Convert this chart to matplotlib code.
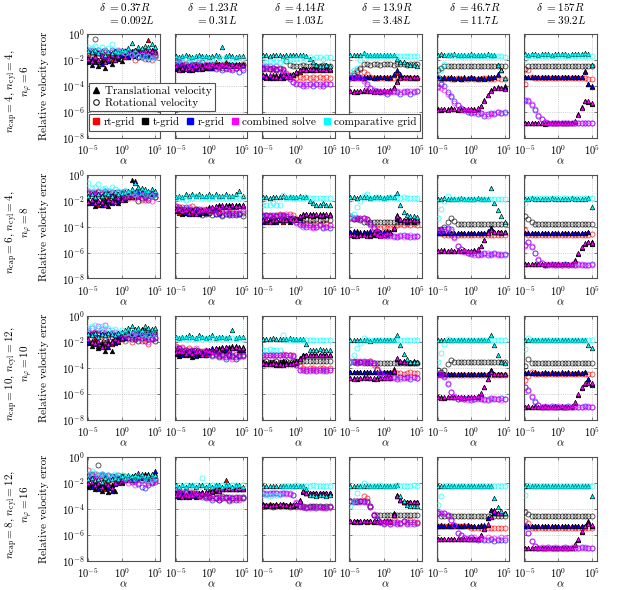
import numpy as np
import matplotlib
matplotlib.use('Agg')
import matplotlib.pyplot as plt
from matplotlib.lines import Line2D
from matplotlib.ticker import NullLocator

plt.rcParams['mathtext.fontset'] = 'cm'
plt.rcParams['font.family'] = 'serif'
plt.rcParams['font.serif'] = ['cmr10', 'DejaVu Serif']
plt.rcParams['axes.formatter.use_mathtext'] = True
plt.rcParams['axes.unicode_minus'] = False

# alpha values (log10)
ALPHA_EXP = [-5.0, -4.5, -4.0, -3.5, -3.0, -2.5, -2.0, -1.5, -1.0, -0.5, 0.0,
             0.5, 1.0, 1.5, 2.0, 2.5, 3.0, 3.5, 4.0, 4.5, 5.0]
SERIES = ['rt-grid', 't-grid', 'r-grid', 'combined solve', 'comparative grid']
COLORS = ['#ff0000', '#000000', '#0000ff', '#ff00ff', '#00ffff']
DELTA_R = ['0.37R', '1.23R', '4.14R', '13.9R', '46.7R', '157R']
DELTA_L = ['0.092L', '0.31L', '1.03L', '3.48L', '11.7L', '39.2L']
ROW_LINE1 = [r'$n_\mathrm{cap}=4$, $n_\mathrm{cyl}=4$,', r'$n_\mathrm{cap}=6$, $n_\mathrm{cyl}=4$,',
             r'$n_\mathrm{cap}=10$, $n_\mathrm{cyl}=12$,', r'$n_\mathrm{cap}=8$, $n_\mathrm{cyl}=12$,']
ROW_LINE2 = [r'$n_\varphi=6$', r'$n_\varphi=8$', r'$n_\varphi=10$', r'$n_\varphi=16$']

# log10(relative velocity error); each panel: [rt-grid, t-grid, r-grid, combined, comparative]
# T = translational velocity, R = rotational velocity, suffix = row, column
T11 = [[-1.8,-2.0,-1.7,-2.2,-1.9,-2.1,-1.6,-2.0,-1.8,-1.5,-1.7,-1.4,-1.6,-1.3,-1.5,-1.2,-1.4,-1.3,-0.5,-1.3,-1.2],
       [-2.2,-2.4,-2.0,-2.5,-2.2,-2.6,-2.1,-2.3,-2.0,-1.9,-2.1,-1.6,-1.8,-1.5,-1.7,-1.4,-1.6,-1.5,-1.7,-1.4,-1.5],
       [-2.0,-1.9,-2.2,-2.0,-2.3,-1.8,-2.1,-1.7,-1.9,-1.8,-1.6,-1.5,-1.7,-1.4,-1.6,-1.5,-1.3,-1.6,-1.4,-1.2,-1.3],
       [-1.9,-2.1,-1.8,-2.0,-1.7,-2.2,-1.9,-1.6,-2.0,-1.7,-1.5,-1.8,-1.4,-1.6,-1.3,-1.5,-1.4,-1.2,-1.5,-1.3,-1.4],
       [-1.3,-1.4,-1.2,-1.5,-1.3,-1.6,-1.4,-1.5,-1.3,-1.4,-1.2,-1.3,-1.1,-0.7,-1.2,-1.0,-1.1,-0.9,-1.0,-0.8,-1.0]]
R11 = [[-1.4,-1.6,-1.3,-1.7,-1.5,-1.2,-1.6,-1.4,-1.8,-1.5,-1.3,-1.6,-1.4,-1.7,-2.0,-1.8,-1.5,-1.9,-1.6,-2.0,-1.7],
       [-1.6,-1.3,-0.4,-1.5,-1.7,-1.4,-1.8,-1.6,-1.5,-1.3,-1.5,-1.4,-1.6,-1.5,-1.3,-1.8,-1.6,-1.4,-1.7,-1.5,-1.6],
       [-1.2,-1.5,-1.4,-1.2,-1.6,-1.3,-1.5,-1.2,-1.4,-1.6,-1.5,-1.3,-1.7,-1.4,-1.6,-1.5,-1.8,-1.6,-1.9,-1.7,-1.8],
       [-1.5,-1.2,-1.6,-1.4,-1.3,-1.7,-1.5,-1.4,-1.6,-1.2,-1.4,-1.5,-1.3,-1.6,-1.4,-1.7,-1.5,-1.6,-1.4,-1.8,-1.5],
       [-1.0,-1.1,-0.9,-1.2,-1.0,-1.3,-1.1,-0.8,-1.2,-1.4,-1.3,-1.5,-1.4,-1.6,-1.5,-1.7,-1.6,-1.8,-1.7,-1.9,-1.8]]
T12 = [[-2.5,-2.6,-2.4,-2.7,-2.5,-2.6,-2.3,-2.5,-2.4,-2.6,-2.3,-2.5,-2.2,-2.4,-2.3,-2.2,-2.4,-2.3,-2.5,-2.3,-2.4],
       [-2.7,-2.6,-2.8,-2.5,-2.7,-2.8,-2.6,-2.5,-2.7,-2.6,-2.4,-2.6,-2.5,-2.3,-2.5,-2.4,-2.3,-2.5,-2.4,-2.3,-2.4],
       [-2.6,-2.7,-2.5,-2.6,-2.8,-2.5,-2.7,-2.6,-2.5,-2.4,-2.6,-2.4,-2.5,-2.3,-2.4,-2.5,-2.3,-2.4,-2.3,-2.4,-2.3],
       [-2.5,-2.8,-2.6,-2.7,-2.6,-2.7,-2.5,-2.7,-2.6,-2.5,-2.5,-2.3,-2.4,-2.5,-2.3,-2.4,-2.5,-2.3,-2.4,-2.5,-2.4],
       [-1.7,-1.8,-1.7,-1.6,-1.7,-1.8,-1.7,-1.6,-1.7,-1.7,-1.8,-1.7,-1.6,-1.7,-1.0,-1.7,-1.6,-1.7,-1.8,-1.7,-1.7]]
R12 = [[-2.2,-2.4,-2.3,-2.5,-2.2,-2.4,-2.6,-2.3,-2.5,-2.4,-2.6,-2.5,-2.3,-2.6,-2.4,-2.7,-2.5,-2.6,-2.4,-2.5,-2.3],
       [-2.4,-2.3,-2.5,-2.3,-2.6,-2.4,-2.3,-2.5,-2.2,-2.4,-2.5,-2.3,-2.5,-2.4,-2.6,-2.3,-2.5,-2.4,-2.6,-2.5,-2.4],
       [-2.3,-2.2,-2.4,-2.6,-2.5,-2.3,-2.5,-2.4,-2.6,-2.5,-2.4,-2.6,-2.7,-2.5,-2.8,-2.6,-2.7,-2.8,-2.6,-2.9,-2.8],
       [-2.1,-2.3,-2.2,-2.4,-2.3,-2.5,-2.4,-2.2,-2.4,-2.3,-2.5,-2.4,-2.6,-2.5,-2.4,-2.6,-2.5,-2.7,-2.6,-2.5,-2.6],
       [-1.9,-2.0,-1.8,-1.9,-2.0,-1.9,-1.8,-2.0,-1.9,-1.8,-1.9,-2.0,-1.9,-1.8,-1.9,-1.8,-1.9,-2.0,-1.9,-1.8,-1.9]]
T13 = [[-3.3,-3.4,-3.3,-3.2,-3.4,-3.3,-3.2,-3.3,-3.2,-3.1,-3.0,-2.9,-2.8,-2.8,-2.7,-2.8,-2.7,-2.8,-2.7,-2.7,-2.8],
       [-3.2,-3.3,-3.4,-3.3,-3.2,-3.3,-3.4,-3.2,-3.3,-3.2,-2.9,-2.8,-2.7,-2.7,-2.8,-2.7,-2.6,-2.7,-2.7,-2.6,-2.7],
       [-3.3,-3.2,-3.3,-3.4,-3.3,-3.2,-3.3,-3.3,-3.2,-3.1,-3.0,-2.8,-2.8,-2.7,-2.7,-2.8,-2.7,-2.7,-2.8,-2.7,-2.7],
       [-3.2,-3.3,-3.2,-3.3,-3.3,-3.4,-3.2,-3.3,-3.3,-3.1,-2.9,-2.8,-2.7,-2.8,-2.7,-2.7,-2.8,-2.7,-2.7,-2.8,-2.7],
       [-1.6,-1.6,-1.7,-1.6,-1.6,-1.6,-1.7,-1.6,-1.6,-1.6,-1.6,-1.6,-1.6,-1.7,-1.9,-2.2,-2.4,-2.5,-2.5,-2.4,-2.5]]
R13 = [[-2.6,-2.7,-2.6,-2.8,-2.7,-2.9,-2.8,-3.0,-3.2,-3.3,-3.4,-3.3,-3.4,-3.3,-3.4,-3.3,-3.4,-3.3,-3.4,-3.3,-3.4],
       [-2.7,-2.6,-2.7,-2.6,-2.7,-2.6,-2.7,-2.1,-2.4,-2.5,-2.5,-2.5,-2.4,-2.5,-2.5,-2.4,-2.5,-2.5,-2.4,-2.5,-2.5],
       [-2.6,-2.5,-2.7,-2.6,-2.8,-2.7,-2.9,-3.2,-3.5,-3.7,-3.9,-3.9,-4.0,-3.9,-3.9,-4.0,-3.9,-3.9,-4.0,-3.9,-3.9],
       [-2.5,-2.6,-2.5,-2.6,-2.5,-2.7,-2.8,-3.1,-3.4,-3.7,-3.8,-3.9,-3.9,-4.0,-3.9,-3.8,-3.9,-4.0,-3.9,-3.8,-3.9],
       [-2.1,-2.2,-2.1,-2.2,-2.1,-2.2,-2.0,-1.9,-2.0,-1.9,-1.9,-1.9,-1.8,-1.9,-1.8,-1.9,-1.8,-1.8,-1.9,-1.8,-1.8]]
T14 = [[-3.3,-3.4,-3.3,-3.3,-3.4,-3.3,-3.3,-3.3,-3.4,-3.3,-3.3,-3.3,-3.4,-3.2,-3.0,-3.2,-3.3,-3.3,-3.3,-3.3,-3.4],
       [-4.4,-4.4,-4.5,-4.4,-4.4,-4.3,-4.4,-4.4,-4.4,-4.5,-4.4,-4.4,-4.3,-4.1,-3.6,-3.3,-3.3,-3.3,-3.3,-3.3,-3.3],
       [-3.3,-3.3,-3.3,-3.4,-3.3,-3.3,-3.3,-3.4,-3.3,-3.3,-3.3,-3.4,-3.3,-3.1,-2.8,-3.1,-3.3,-3.3,-3.3,-3.4,-3.3],
       [-4.4,-4.5,-4.4,-4.4,-4.3,-4.4,-4.4,-4.5,-4.4,-4.4,-4.3,-4.4,-4.4,-4.2,-3.7,-3.4,-3.3,-3.3,-3.4,-3.3,-3.3],
       [-1.6,-1.6,-1.6,-1.6,-1.5,-1.6,-1.6,-1.6,-1.6,-1.6,-1.6,-1.6,-1.6,-1.6,-1.9,-2.2,-2.2,-2.3,-2.4,-2.4,-2.5]]
R14 = [[-3.2,-3.0,-2.8,-2.7,-2.9,-3.1,-3.3,-3.4,-3.4,-3.4,-3.4,-3.4,-3.4,-3.4,-3.3,-3.4,-3.4,-3.4,-3.4,-3.4,-3.4],
       [-3.4,-3.2,-2.9,-2.6,-2.3,-2.3,-2.4,-2.3,-2.3,-2.4,-2.3,-2.3,-2.3,-2.4,-2.3,-2.3,-2.3,-2.4,-2.3,-2.3,-2.3],
       [-3.3,-3.4,-3.3,-3.3,-3.5,-3.9,-4.2,-4.3,-4.4,-4.5,-4.5,-4.6,-4.5,-4.4,-4.5,-4.6,-4.5,-4.4,-4.6,-4.5,-4.4],
       [-3.4,-3.3,-3.4,-3.4,-3.6,-4.0,-4.2,-4.4,-4.4,-4.4,-4.5,-4.5,-4.4,-4.5,-4.4,-4.5,-4.4,-4.5,-4.4,-4.4,-4.4],
       [-2.9,-2.8,-2.6,-2.0,-1.6,-1.7,-1.7,-1.7,-1.7,-1.7,-1.7,-1.7,-1.7,-1.7,-1.7,-1.7,-1.7,-1.7,-1.7,-1.7,-1.7]]
T15 = [[-3.4,-3.4,-3.35,-3.4,-3.4,-3.45,-3.4,-3.4,-3.35,-3.4,-3.4,-3.4,-3.45,-3.4,-3.4,-3.35,-3.4,-3.3,-3.2,-2.8,-4.0],
       [-5.8,-5.85,-5.8,-5.8,-5.75,-5.8,-5.85,-5.8,-5.8,-5.85,-5.8,-5.8,-5.8,-5.6,-5.1,-4.7,-4.35,-4.15,-4.1,-4.2,-4.2],
       [-3.35,-3.4,-3.4,-3.4,-3.35,-3.4,-3.4,-3.45,-3.4,-3.4,-3.35,-3.4,-3.4,-3.4,-3.45,-3.4,-3.35,-3.3,-3.1,-2.8,-4.1],
       [-5.85,-5.8,-5.8,-5.85,-5.8,-5.8,-5.8,-5.85,-5.8,-5.8,-5.8,-5.85,-5.75,-5.6,-5.15,-4.7,-4.4,-4.15,-4.15,-4.2,-4.25],
       [-1.6,-1.55,-1.6,-1.6,-1.6,-1.55,-1.6,-1.6,-1.6,-1.6,-1.55,-1.6,-1.6,-1.6,-1.6,-1.55,-1.6,-1.6,-2.4,-2.8,-3.4]]
R15 = [[-3.3,-3.45,-3.45,-3.4,-3.45,-3.45,-3.4,-3.45,-3.45,-3.45,-3.4,-3.45,-3.45,-3.45,-3.4,-3.45,-3.45,-3.45,-3.4,-3.45,-3.45],
       [-2.8,-2.6,-2.5,-2.45,-2.5,-2.5,-2.45,-2.5,-2.5,-2.45,-2.5,-2.5,-2.5,-2.45,-2.5,-2.5,-2.45,-2.5,-2.5,-2.5,-2.45],
       [-4.1,-3.85,-4.0,-4.5,-4.8,-5.2,-5.5,-5.7,-5.9,-6.0,-6.1,-6.0,-6.2,-6.1,-6.3,-6.2,-6.1,-6.2,-6.0,-6.1,-6.0],
       [-4.0,-4.2,-4.3,-4.6,-4.9,-5.3,-5.5,-5.8,-5.9,-5.9,-6.0,-6.1,-6.0,-6.1,-6.2,-6.3,-6.2,-6.1,-6.0,-6.1,-6.1],
       [-3.3,-2.8,-2.3,-1.6,-1.65,-1.7,-1.7,-1.7,-1.7,-1.7,-1.7,-1.7,-1.7,-1.7,-1.7,-1.7,-1.7,-1.7,-1.7,-1.7,-1.75]]
T16 = [[-3.35,-3.35,-3.35,-3.3,-3.35,-3.35,-3.35,-3.35,-3.3,-3.35,-3.35,-3.35,-3.35,-3.3,-3.35,-3.35,-3.35,-3.3,-2.85,-3.9,-4.1],
       [-6.9,-6.9,-6.85,-6.9,-6.9,-6.9,-6.95,-6.9,-6.9,-6.9,-6.85,-6.9,-6.9,-6.9,-6.85,-6.8,-6.2,-5.65,-5.15,-5.25,-5.4],
       [-3.35,-3.3,-3.35,-3.35,-3.35,-3.3,-3.35,-3.35,-3.35,-3.35,-3.3,-3.35,-3.35,-3.35,-3.3,-3.35,-3.35,-3.3,-2.9,-3.85,-4.0],
       [-6.9,-6.85,-6.9,-6.9,-6.9,-6.85,-6.9,-6.9,-6.9,-6.85,-6.9,-6.9,-6.85,-6.9,-6.9,-6.75,-6.25,-5.7,-5.2,-5.2,-5.35],
       [-1.55,-1.6,-1.55,-1.55,-1.6,-1.55,-1.55,-1.55,-1.6,-1.55,-1.55,-1.55,-1.55,-1.6,-1.55,-1.55,-1.55,-1.55,-1.5,-1.55,-2.4]]
R16 = [[-3.9,-2.8,-3.3,-3.4,-3.4,-3.4,-3.4,-3.4,-3.4,-3.4,-3.4,-3.4,-3.4,-3.4,-3.4,-3.4,-3.4,-3.4,-3.4,-3.45,-3.45],
       [-2.7,-2.45,-2.5,-2.5,-2.5,-2.5,-2.5,-2.5,-2.5,-2.5,-2.5,-2.5,-2.5,-2.5,-2.5,-2.5,-2.5,-2.5,-2.5,-2.5,-2.45],
       [-5.1,-5.15,-5.5,-5.85,-6.3,-6.55,-6.8,-6.9,-6.9,-6.85,-6.9,-6.9,-6.9,-6.85,-6.9,-6.9,-6.9,-6.85,-6.9,-6.9,-6.9],
       [-5.2,-5.1,-5.4,-5.8,-6.25,-6.6,-6.8,-6.85,-6.9,-6.9,-6.85,-6.9,-6.9,-6.9,-6.85,-6.9,-6.85,-6.9,-6.9,-6.85,-6.9],
       [-1.95,-1.7,-1.7,-1.7,-1.7,-1.7,-1.7,-1.7,-1.7,-1.7,-1.7,-1.7,-1.7,-1.7,-1.7,-1.7,-1.7,-1.7,-1.7,-1.7,-1.7]]

T21 = [[-1.9,-2.1,-1.8,-2.3,-1.9,-2.2,-1.8,-2.0,-1.7,-1.9,-1.6,-1.8,-1.5,-1.7,-1.4,-1.6,-1.5,-1.3,-1.5,-1.4,-1.5],
       [-2.2,-2.0,-2.4,-2.1,-2.3,-2.0,-2.4,-2.1,-1.9,-2.2,-1.8,-1.9,-1.7,-0.35,-1.3,-1.2,-1.4,-1.3,-1.4,-1.2,-1.3],
       [-2.0,-2.2,-1.9,-2.1,-2.3,-1.9,-2.1,-2.2,-1.8,-2.0,-1.7,-1.8,-1.6,-1.5,-0.5,-1.3,-1.5,-1.4,-1.3,-1.5,-1.4],
       [-2.1,-1.9,-2.2,-2.0,-2.1,-2.3,-1.9,-2.0,-2.1,-1.8,-1.9,-1.7,-1.6,-1.5,-1.4,-1.6,-1.3,-1.5,-1.4,-1.3,-1.4],
       [-1.6,-1.5,-1.7,-1.5,-1.6,-1.4,-1.5,-1.6,-1.3,-1.5,-1.4,-1.3,-1.2,-1.1,-0.6,-0.9,-1.0,-1.1,-1.2,-1.1,-1.2]]
R21 = [[-1.3,-1.6,-1.4,-1.2,-1.5,-1.3,-1.6,-1.4,-1.5,-1.7,-1.4,-1.6,-1.8,-1.5,-1.7,-1.6,-1.9,-1.7,-1.8,-1.6,-1.7],
       [-1.5,-1.4,-1.6,-1.3,-1.7,-1.5,-1.4,-1.6,-1.5,-1.3,-1.4,-1.6,-1.5,-1.7,-1.6,-2.0,-1.8,-1.7,-1.9,-1.6,-1.7],
       [-1.4,-1.3,-1.5,-1.6,-1.4,-1.2,-1.5,-1.3,-1.4,-1.6,-1.3,-1.2,-1.4,-1.5,-1.3,-1.6,-1.4,-1.5,-1.6,-1.4,-1.5],
       [-1.2,-1.4,-1.3,-1.5,-1.3,-1.4,-1.2,-1.5,-1.6,-1.4,-1.5,-1.7,-1.6,-1.4,-1.8,-1.6,-1.7,-1.9,-1.8,-2.0,-1.7],
       [-0.6,-1.0,-0.9,-0.7,-1.1,-1.0,-1.2,-0.9,-1.1,-1.2,-1.3,-1.2,-1.4,-1.3,-1.5,-1.4,-1.3,-1.5,-1.4,-1.6,-1.5]]
T22 = [[-2.7,-2.9,-2.6,-2.8,-2.7,-3.0,-2.8,-2.7,-2.9,-2.8,-2.6,-2.7,-2.5,-2.6,-2.4,-2.5,-2.3,-2.5,-2.4,-2.3,-2.4],
       [-2.8,-2.7,-3.0,-2.9,-2.8,-2.7,-2.9,-3.0,-2.8,-2.9,-2.5,-2.6,-2.4,-2.3,-2.4,-2.3,-2.4,-2.3,-2.3,-2.4,-2.3],
       [-2.6,-2.8,-2.7,-2.9,-3.0,-2.8,-2.7,-2.9,-2.8,-2.7,-2.6,-2.5,-2.6,-2.4,-2.5,-2.4,-2.3,-2.4,-2.5,-2.3,-2.4],
       [-2.7,-2.6,-2.8,-2.7,-2.9,-2.8,-3.0,-2.8,-2.7,-2.6,-2.7,-2.5,-2.4,-2.5,-2.3,-2.4,-2.5,-2.3,-2.4,-2.4,-2.3],
       [-1.7,-1.6,-1.7,-1.5,-1.6,-1.5,-1.6,-1.5,-1.6,-1.6,-1.5,-1.6,-1.5,-1.6,-1.6,-1.5,-1.6,-1.6,-1.5,-1.2,-1.6]]
R22 = [[-2.4,-2.6,-2.5,-2.7,-2.6,-2.4,-2.6,-2.8,-2.7,-2.6,-2.9,-2.7,-2.8,-3.0,-2.9,-2.7,-2.9,-2.8,-3.0,-2.9,-2.8],
       [-2.6,-2.5,-2.7,-2.6,-2.8,-2.7,-2.6,-2.8,-3.1,-3.0,-2.9,-3.1,-3.0,-2.9,-3.2,-3.0,-3.1,-2.9,-3.1,-3.0,-3.2],
       [-2.5,-2.7,-2.6,-2.5,-2.7,-2.9,-2.7,-2.6,-2.8,-2.9,-2.7,-2.8,-3.0,-2.9,-3.1,-2.8,-3.0,-3.1,-2.9,-3.0,-2.9],
       [-2.4,-2.5,-2.7,-2.6,-2.5,-2.6,-2.8,-2.7,-2.6,-2.7,-2.8,-2.6,-2.9,-2.8,-2.7,-2.9,-2.8,-3.0,-2.8,-2.9,-2.7],
       [-1.8,-1.7,-1.8,-1.9,-1.7,-1.8,-1.6,-1.7,-1.8,-1.7,-1.8,-1.7,-1.8,-1.7,-1.8,-1.8,-1.7,-1.8,-1.7,-1.8,-1.7]]
T23 = [[-3.5,-3.6,-3.5,-3.5,-3.4,-3.5,-3.6,-3.5,-3.5,-3.4,-3.5,-3.3,-3.2,-3.1,-3.1,-3.2,-3.1,-3.1,-3.2,-3.1,-3.1],
       [-3.4,-3.5,-3.5,-3.6,-3.5,-3.5,-3.4,-3.5,-3.6,-3.5,-3.4,-3.2,-3.0,-3.0,-3.1,-3.0,-3.1,-3.0,-3.0,-3.1,-3.0],
       [-3.6,-3.5,-3.4,-3.5,-3.6,-3.5,-3.5,-3.4,-3.5,-3.5,-3.4,-3.3,-3.1,-3.1,-3.0,-3.1,-3.1,-3.2,-3.1,-3.1,-3.1],
       [-3.5,-3.4,-3.6,-3.5,-3.5,-3.4,-3.5,-3.5,-3.4,-3.5,-3.4,-3.2,-3.1,-3.0,-3.1,-3.1,-3.0,-3.1,-3.1,-3.0,-3.1],
       [-1.7,-1.7,-1.8,-1.7,-1.7,-1.7,-1.6,-1.7,-1.7,-1.7,-1.7,-1.6,-1.7,-1.7,-2.0,-2.2,-2.3,-2.3,-2.2,-2.3,-2.3]]
R23 = [[-3.1,-3.2,-3.1,-3.2,-3.1,-3.0,-3.1,-3.2,-3.0,-3.1,-3.4,-3.6,-3.7,-3.8,-3.7,-3.8,-3.9,-3.8,-3.7,-3.8,-3.9],
       [-3.2,-3.1,-3.2,-3.3,-3.2,-3.1,-3.2,-3.3,-3.4,-3.3,-3.4,-3.5,-3.5,-3.4,-3.5,-3.5,-3.4,-3.5,-3.5,-3.4,-3.5],
       [-3.2,-3.1,-3.2,-3.1,-3.2,-3.2,-3.1,-3.2,-3.3,-3.4,-3.6,-3.8,-3.9,-4.0,-3.9,-4.0,-4.0,-3.9,-4.1,-4.0,-4.1],
       [-3.1,-3.2,-3.1,-3.2,-3.1,-3.1,-3.2,-3.0,-3.2,-3.4,-3.7,-3.9,-4.0,-3.9,-4.0,-4.1,-4.0,-3.9,-4.0,-4.0,-3.9],
       [-2.3,-2.3,-2.3,-2.2,-2.3,-2.3,-1.55,-1.75,-1.7,-1.8,-1.75,-1.8,-1.75,-1.7,-1.8,-1.75,-1.8,-1.75,-1.8,-1.75,-1.8]]
T24 = [[-4.4,-4.4,-4.3,-4.4,-4.4,-4.5,-4.4,-4.4,-4.3,-4.4,-4.4,-4.5,-4.4,-4.2,-3.4,-3.5,-3.5,-3.5,-3.5,-3.5,-3.5],
       [-4.6,-4.7,-4.6,-4.6,-4.5,-4.6,-4.7,-4.6,-4.6,-4.5,-4.6,-4.6,-4.5,-4.1,-3.1,-3.5,-3.5,-3.5,-3.5,-3.6,-3.5],
       [-4.4,-4.3,-4.4,-4.5,-4.4,-4.4,-4.3,-4.4,-4.5,-4.4,-4.4,-4.3,-4.4,-4.2,-3.3,-3.5,-3.5,-3.6,-3.5,-3.5,-3.5],
       [-4.6,-4.6,-4.7,-4.6,-4.6,-4.7,-4.6,-4.5,-4.6,-4.7,-4.6,-4.5,-4.5,-4.1,-3.2,-3.4,-3.5,-3.5,-3.5,-3.5,-3.5],
       [-1.7,-1.7,-1.75,-1.7,-1.7,-1.7,-1.75,-1.7,-1.7,-1.7,-1.75,-1.7,-1.7,-1.7,-1.4,-2.3,-2.85,-3.1,-3.2,-3.2,-3.25]]
R24 = [[-3.3,-3.4,-3.3,-3.4,-3.3,-3.4,-3.7,-4.0,-4.1,-4.1,-4.0,-4.1,-4.1,-4.0,-3.9,-3.8,-3.9,-3.8,-3.9,-3.8,-3.9],
       [-3.2,-3.4,-3.3,-3.5,-3.6,-3.6,-3.6,-3.6,-3.6,-3.6,-3.6,-3.6,-3.6,-3.6,-3.6,-3.6,-3.6,-3.6,-3.6,-3.6,-3.6],
       [-3.35,-3.3,-3.4,-3.35,-3.3,-3.4,-3.8,-4.1,-4.3,-4.5,-4.6,-4.7,-4.6,-4.7,-4.8,-4.7,-4.6,-4.7,-4.8,-4.7,-4.75],
       [-3.3,-3.35,-3.3,-3.4,-3.35,-3.5,-3.9,-4.2,-4.4,-4.6,-4.7,-4.6,-4.7,-4.8,-4.7,-4.6,-4.8,-4.7,-4.6,-4.8,-4.7],
       [-3.2,-3.0,-2.5,-2.0,-1.6,-1.5,-1.75,-1.75,-1.7,-1.75,-1.75,-1.75,-1.7,-1.75,-1.75,-1.75,-1.7,-1.75,-1.75,-1.75,-1.75]]
T25 = [[-4.5,-4.5,-4.5,-4.45,-4.5,-4.5,-4.5,-4.5,-4.5,-4.45,-4.5,-4.5,-4.5,-4.5,-4.5,-4.4,-4.1,-4.4,-4.4,-4.4,-4.4],
       [-5.85,-5.85,-5.8,-5.85,-5.9,-5.85,-5.8,-5.85,-5.85,-5.9,-5.85,-5.8,-5.8,-5.5,-5.0,-4.5,-4.2,-4.4,-4.4,-4.4,-4.4],
       [-4.5,-4.45,-4.5,-4.5,-4.45,-4.5,-4.5,-4.5,-4.45,-4.5,-4.5,-4.5,-4.45,-4.5,-4.5,-4.35,-4.1,-4.4,-4.4,-4.45,-4.4],
       [-5.85,-5.8,-5.85,-5.85,-5.8,-5.9,-5.85,-5.85,-5.8,-5.85,-5.9,-5.85,-5.75,-5.45,-5.0,-4.5,-4.25,-4.4,-4.4,-4.4,-4.4],
       [-1.85,-1.85,-1.8,-1.85,-1.85,-1.85,-1.85,-1.8,-1.85,-1.85,-1.85,-1.85,-1.8,-1.85,-1.85,-1.85,-1.0,-2.2,-2.7,-3.15,-3.6]]
R25 = [[-4.3,-4.5,-4.6,-4.65,-4.6,-4.65,-4.6,-4.65,-4.65,-4.6,-4.65,-4.65,-4.6,-4.65,-4.65,-4.6,-4.65,-4.65,-4.6,-4.65,-4.6],
       [-4.25,-4.2,-4.0,-3.6,-3.3,-3.55,-3.75,-3.75,-3.75,-3.75,-3.75,-3.75,-3.75,-3.75,-3.75,-3.75,-3.75,-3.75,-3.75,-3.75,-3.75],
       [-4.25,-4.25,-4.2,-4.1,-4.2,-4.8,-5.5,-5.75,-5.9,-6.0,-6.1,-6.0,-6.2,-6.1,-6.0,-6.2,-6.1,-6.0,-6.1,-6.2,-6.1],
       [-4.25,-4.3,-4.25,-4.2,-4.3,-4.85,-5.5,-5.7,-5.95,-6.05,-6.0,-6.15,-6.1,-6.2,-6.1,-6.0,-6.15,-6.1,-6.2,-6.1,-6.15],
       [-3.35,-2.6,-2.0,-1.6,-1.85,-1.85,-1.85,-1.85,-1.85,-1.85,-1.85,-1.85,-1.85,-1.85,-1.85,-1.85,-1.85,-1.85,-1.85,-1.85,-1.85]]
T26 = [[-4.5,-4.5,-4.5,-4.5,-4.45,-4.5,-4.5,-4.5,-4.5,-4.5,-4.45,-4.5,-4.5,-4.5,-4.5,-4.5,-4.45,-4.5,-4.5,-4.4,-5.2],
       [-6.9,-6.9,-6.9,-6.85,-6.9,-6.9,-6.95,-6.9,-6.9,-6.9,-6.85,-6.9,-6.9,-6.9,-6.9,-6.6,-6.1,-5.65,-5.3,-5.15,-5.3],
       [-4.5,-4.45,-4.5,-4.5,-4.5,-4.5,-4.45,-4.5,-4.5,-4.5,-4.5,-4.45,-4.5,-4.5,-4.5,-4.5,-4.5,-4.45,-4.45,-4.4,-5.15],
       [-6.9,-6.85,-6.9,-6.9,-6.9,-6.85,-6.9,-6.9,-6.9,-6.85,-6.9,-6.9,-6.9,-6.85,-6.9,-6.65,-6.05,-5.6,-5.25,-5.15,-5.25],
       [-1.85,-1.85,-1.8,-1.85,-1.85,-1.85,-1.85,-1.85,-1.8,-1.85,-1.85,-1.85,-1.85,-1.85,-1.8,-1.85,-1.85,-1.85,-1.85,-1.8,-2.45]]
R26 = [[-4.25,-4.6,-4.6,-4.6,-4.6,-4.6,-4.6,-4.6,-4.6,-4.6,-4.6,-4.6,-4.6,-4.6,-4.6,-4.6,-4.6,-4.6,-4.6,-4.6,-4.55],
       [-3.15,-3.4,-3.65,-3.75,-3.75,-3.75,-3.75,-3.75,-3.75,-3.75,-3.75,-3.75,-3.75,-3.75,-3.75,-3.75,-3.75,-3.75,-3.75,-3.75,-3.75],
       [-5.4,-5.15,-5.55,-6.05,-6.55,-6.8,-6.95,-6.95,-6.9,-6.95,-6.95,-6.95,-6.9,-6.95,-6.95,-6.95,-6.9,-6.95,-6.95,-6.95,-6.9],
       [-5.45,-5.2,-5.5,-6.0,-6.5,-6.8,-6.95,-6.9,-6.95,-6.95,-6.9,-6.95,-6.95,-6.95,-6.9,-6.95,-6.95,-6.9,-6.95,-6.95,-6.95],
       [-2.2,-1.8,-1.8,-1.8,-1.8,-1.8,-1.8,-1.8,-1.8,-1.8,-1.8,-1.8,-1.8,-1.8,-1.8,-1.8,-1.8,-1.8,-1.8,-1.8,-1.8]]

T31 = [[-1.9,-2.1,-1.8,-2.3,-2.0,-2.4,-1.9,-2.2,-1.7,-1.6,-1.8,-1.4,-1.3,-1.5,-1.2,-1.4,-1.1,-1.3,-1.2,-1.4,-1.3],
       [-2.1,-2.3,-2.0,-2.5,-2.2,-2.7,-2.1,-2.7,-1.9,-2.0,-1.7,-1.5,-1.2,-1.3,-1.1,-1.2,-1.0,-1.2,-1.0,-1.1,-1.2],
       [-2.0,-1.9,-2.2,-2.0,-2.3,-2.1,-2.4,-1.9,-2.1,-1.8,-1.6,-1.7,-1.3,-1.4,-1.2,-1.3,-1.2,-1.1,-1.3,-1.2,-1.1],
       [-1.8,-2.0,-2.1,-1.9,-2.4,-2.0,-2.2,-2.0,-1.8,-1.9,-1.7,-1.5,-1.4,-1.2,-1.3,-1.1,-1.3,-1.2,-1.1,-1.3,-1.2],
       [-1.4,-1.5,-1.3,-1.6,-1.4,-1.5,-1.3,-1.4,-1.5,-1.3,-1.2,-1.1,-0.9,-0.8,-1.0,-0.9,-1.1,-0.8,-0.9,-1.0,-0.9]]
R31 = [[-1.3,-1.5,-1.2,-1.4,-1.6,-1.3,-1.5,-1.4,-1.7,-1.5,-1.6,-1.9,-1.7,-2.0,-1.8,-1.6,-1.9,-1.7,-2.2,-1.8,-1.7],
       [-1.5,-1.4,-1.6,-1.3,-1.5,-1.7,-1.4,-1.6,-1.5,-1.8,-1.6,-1.7,-1.5,-1.8,-1.6,-1.9,-1.7,-1.6,-1.8,-1.7,-1.9],
       [-1.2,-1.4,-1.3,-1.5,-1.2,-1.4,-1.6,-1.3,-1.5,-1.4,-1.6,-1.5,-1.7,-1.6,-1.8,-1.7,-1.5,-1.9,-1.6,-1.8,-1.7],
       [-1.1,-0.9,-1.2,-0.8,-1.0,-0.7,-1.1,-1.3,-1.2,-1.4,-1.3,-1.5,-1.6,-1.4,-1.7,-1.5,-1.8,-1.6,-2.0,-1.7,-1.6],
       [-0.9,-0.8,-0.7,-0.9,-0.8,-1.0,-0.9,-1.1,-1.0,-1.2,-1.1,-1.3,-1.2,-1.4,-1.3,-1.2,-1.4,-1.3,-1.5,-1.4,-1.3]]
T32 = [[-2.8,-2.6,-2.9,-2.7,-3.0,-2.8,-2.7,-2.9,-2.8,-3.0,-2.6,-2.7,-2.5,-2.6,-2.5,-2.7,-2.4,-2.5,-2.3,-2.5,-2.4],
       [-2.9,-3.1,-2.8,-3.0,-2.9,-3.2,-2.9,-3.0,-2.8,-2.7,-2.8,-2.6,-2.7,-2.5,-2.6,-2.4,-2.5,-2.5,-2.4,-2.6,-2.5],
       [-2.7,-2.9,-3.0,-2.8,-2.9,-2.7,-3.1,-2.8,-2.9,-2.8,-2.7,-2.5,-2.6,-2.7,-2.4,-2.6,-2.5,-2.3,-2.5,-2.4,-2.6],
       [-2.8,-2.7,-2.8,-2.9,-2.7,-2.9,-2.8,-2.7,-3.0,-2.6,-2.7,-2.8,-2.5,-2.6,-2.5,-2.4,-2.6,-2.5,-2.4,-2.5,-2.5],
       [-1.6,-1.7,-1.6,-1.6,-1.5,-1.6,-1.7,-1.5,-1.6,-1.7,-1.6,-1.5,-1.7,-1.6,-1.6,-1.7,-1.6,-1.1,-1.7,-1.6,-1.6]]
R32 = [[-2.3,-2.5,-2.4,-2.6,-2.5,-2.7,-2.6,-2.8,-2.7,-2.9,-2.8,-2.7,-3.0,-2.9,-3.1,-2.8,-3.0,-3.2,-2.9,-3.1,-3.0],
       [-2.6,-2.5,-2.7,-2.6,-2.8,-2.7,-2.6,-2.9,-2.8,-2.7,-2.9,-3.0,-2.8,-3.1,-2.9,-3.2,-3.0,-3.1,-3.3,-3.0,-3.1],
       [-2.5,-2.7,-2.6,-2.8,-2.7,-2.6,-2.8,-2.7,-2.9,-3.0,-2.8,-3.1,-2.9,-3.2,-3.0,-3.3,-3.1,-3.0,-3.2,-3.1,-3.0],
       [-2.4,-2.6,-2.5,-2.7,-2.6,-2.8,-2.5,-2.7,-2.8,-2.6,-2.9,-2.8,-3.0,-2.9,-3.2,-3.1,-2.9,-3.3,-3.0,-3.2,-3.1],
       [-1.7,-1.8,-1.7,-1.8,-1.7,-1.8,-1.8,-1.7,-1.8,-1.7,-1.8,-1.7,-1.8,-1.7,-1.8,-1.7,-1.8,-1.7,-1.8,-1.7,-1.8]]
T33 = [[-3.7,-3.7,-3.65,-3.7,-3.7,-3.75,-3.7,-3.7,-3.65,-3.7,-3.6,-3.3,-3.05,-3.05,-3.0,-3.05,-3.05,-3.05,-3.0,-3.05,-3.05],
       [-3.55,-3.6,-3.55,-3.55,-3.6,-3.55,-3.5,-3.55,-3.6,-3.55,-3.5,-3.25,-3.0,-3.0,-3.05,-3.0,-3.0,-3.05,-3.0,-3.0,-3.05],
       [-3.7,-3.65,-3.7,-3.7,-3.75,-3.7,-3.7,-3.65,-3.7,-3.7,-3.6,-3.3,-3.05,-3.05,-3.05,-3.0,-3.05,-3.05,-3.05,-3.0,-3.05],
       [-3.65,-3.7,-3.7,-3.65,-3.7,-3.7,-3.75,-3.7,-3.7,-3.65,-3.55,-3.3,-3.1,-3.05,-3.05,-3.05,-3.0,-3.05,-3.05,-3.05,-3.0],
       [-1.75,-1.75,-1.75,-1.7,-1.75,-1.75,-1.75,-1.75,-1.7,-1.75,-1.75,-1.75,-1.75,-2.2,-2.6,-2.6,-2.6,-2.55,-2.6,-2.6,-2.6]]
R33 = [[-3.0,-3.05,-3.0,-3.05,-3.0,-3.05,-2.9,-3.05,-3.0,-3.05,-3.6,-3.9,-4.05,-4.1,-4.05,-4.05,-4.1,-4.05,-4.05,-4.1,-4.05],
       [-3.55,-3.5,-3.55,-3.55,-3.5,-3.55,-3.55,-3.5,-3.55,-3.5,-3.5,-3.5,-3.5,-3.5,-3.5,-3.5,-3.5,-3.5,-3.5,-3.5,-3.5],
       [-3.05,-3.0,-3.05,-3.05,-3.0,-3.05,-3.05,-3.0,-3.05,-3.1,-3.8,-4.2,-4.2,-4.25,-4.2,-4.2,-4.25,-4.2,-4.2,-4.25,-4.2],
       [-3.0,-3.05,-3.05,-3.0,-3.05,-3.05,-3.0,-3.05,-3.0,-3.1,-3.75,-4.15,-4.2,-4.2,-4.25,-4.2,-4.2,-4.2,-4.25,-4.2,-4.2],
       [-2.6,-2.6,-2.55,-2.6,-2.6,-2.6,-1.5,-1.88,-1.88,-1.85,-1.88,-1.88,-1.88,-1.88,-1.85,-1.88,-1.88,-1.88,-1.88,-1.85,-1.88]]
T34 = [[-4.35,-4.35,-4.3,-4.35,-4.35,-4.3,-4.35,-4.35,-4.35,-4.3,-4.35,-4.35,-4.35,-4.1,-3.3,-3.55,-3.55,-3.55,-3.55,-3.55,-3.55],
       [-4.8,-4.8,-4.85,-4.8,-4.75,-4.8,-4.8,-4.85,-4.8,-4.8,-4.8,-4.75,-4.8,-4.3,-3.3,-3.55,-3.55,-3.55,-3.6,-3.55,-3.55],
       [-4.35,-4.3,-4.35,-4.35,-4.3,-4.35,-4.35,-4.3,-4.35,-4.35,-4.35,-4.3,-4.35,-4.15,-3.35,-3.55,-3.5,-3.55,-3.55,-3.5,-3.55],
       [-4.8,-4.85,-4.8,-4.8,-4.8,-4.75,-4.8,-4.8,-4.85,-4.8,-4.8,-4.8,-4.75,-4.25,-3.25,-3.5,-3.55,-3.55,-3.55,-3.6,-3.55],
       [-1.88,-1.88,-1.85,-1.88,-1.88,-1.88,-1.9,-1.88,-1.88,-1.85,-1.88,-1.88,-1.88,-1.88,-1.45,-2.27,-2.9,-3.3,-3.55,-3.55,-3.55]]
R34 = [[-3.55,-3.55,-3.5,-3.55,-3.55,-3.55,-3.5,-3.8,-4.2,-4.4,-4.4,-4.45,-4.4,-4.35,-4.4,-4.4,-4.45,-4.4,-4.35,-4.4,-4.4],
       [-3.55,-3.55,-3.6,-3.55,-3.6,-3.6,-3.6,-3.6,-3.6,-3.6,-3.6,-3.6,-3.6,-3.6,-3.6,-3.6,-3.6,-3.6,-3.6,-3.6,-3.6],
       [-3.55,-3.5,-3.55,-3.55,-3.5,-3.55,-3.55,-3.6,-4.07,-4.45,-4.6,-4.7,-4.8,-4.75,-4.85,-4.7,-4.8,-4.75,-4.85,-4.7,-4.8],
       [-3.5,-3.55,-3.55,-3.5,-3.55,-3.55,-3.5,-3.6,-4.1,-4.4,-4.65,-4.75,-4.7,-4.8,-4.75,-4.85,-4.7,-4.8,-4.7,-4.75,-4.8],
       [-3.55,-3.04,-2.5,-2.06,-1.7,-1.88,-1.88,-1.88,-1.85,-1.88,-1.88,-1.88,-1.88,-1.85,-1.88,-1.88,-1.88,-1.88,-1.85,-1.88,-1.88]]
T35 = [[-4.46,-4.46,-4.45,-4.46,-4.46,-4.5,-4.46,-4.46,-4.45,-4.46,-4.46,-4.46,-4.5,-4.46,-4.46,-4.46,-4.2,-4.5,-4.5,-4.5,-4.5],
       [-6.26,-6.26,-6.3,-6.26,-6.26,-6.25,-6.26,-6.3,-6.26,-6.26,-6.25,-6.26,-6.26,-6.0,-5.5,-4.85,-4.33,-4.5,-4.5,-4.5,-4.5],
       [-4.46,-4.45,-4.46,-4.46,-4.5,-4.46,-4.46,-4.45,-4.46,-4.46,-4.5,-4.46,-4.46,-4.46,-4.45,-4.46,-4.2,-4.5,-4.5,-4.45,-4.5],
       [-6.26,-6.3,-6.26,-6.26,-6.25,-6.26,-6.26,-6.26,-6.3,-6.26,-6.26,-6.25,-6.2,-5.95,-5.45,-4.85,-4.35,-4.5,-4.5,-4.5,-4.5],
       [-1.88,-1.88,-1.85,-1.88,-1.88,-1.88,-1.88,-1.85,-1.88,-1.88,-1.88,-1.88,-1.85,-1.88,-1.88,-1.88,-1.45,-2.27,-3.04,-3.55,-3.6]]
R35 = [[-4.54,-4.54,-4.55,-4.54,-4.54,-4.54,-4.55,-4.54,-4.54,-4.54,-4.55,-4.54,-4.54,-4.54,-4.55,-4.54,-4.54,-4.54,-4.55,-4.54,-4.54],
       [-4.2,-4.3,-4.2,-3.7,-3.43,-3.55,-3.55,-3.55,-3.55,-3.55,-3.55,-3.55,-3.55,-3.55,-3.55,-3.55,-3.55,-3.55,-3.55,-3.55,-3.55],
       [-4.46,-4.46,-4.7,-5.23,-5.88,-6.26,-6.44,-6.3,-6.45,-6.35,-6.5,-6.4,-6.3,-6.45,-6.4,-6.5,-6.35,-6.4,-6.45,-6.3,-6.4],
       [-4.46,-4.5,-4.65,-5.2,-5.85,-6.2,-6.4,-6.35,-6.4,-6.5,-6.35,-6.45,-6.4,-6.3,-6.5,-6.4,-6.45,-6.35,-6.4,-6.5,-6.4],
       [-3.55,-2.83,-2.2,-1.75,-1.88,-1.88,-1.88,-1.88,-1.88,-1.88,-1.88,-1.88,-1.88,-1.88,-1.88,-1.88,-1.88,-1.88,-1.88,-1.88,-1.88]]
T36 = [[-4.4,-4.4,-4.4,-4.35,-4.4,-4.4,-4.4,-4.4,-4.35,-4.4,-4.4,-4.4,-4.4,-4.35,-4.4,-4.4,-4.4,-4.4,-4.3,-4.9,-5.3],
       [-7.0,-7.0,-7.0,-6.95,-7.0,-7.0,-7.0,-7.0,-7.0,-6.95,-7.0,-7.0,-7.0,-7.0,-7.0,-6.7,-6.1,-5.55,-5.25,-5.15,-5.25],
       [-4.4,-4.35,-4.4,-4.4,-4.4,-4.4,-4.35,-4.4,-4.4,-4.4,-4.4,-4.35,-4.4,-4.4,-4.4,-4.4,-4.35,-4.4,-4.3,-4.85,-5.25],
       [-7.0,-6.95,-7.0,-7.0,-7.0,-7.0,-6.95,-7.0,-7.0,-7.0,-7.0,-6.95,-7.0,-7.0,-6.95,-6.65,-6.05,-5.5,-5.2,-5.15,-5.2],
       [-1.88,-1.88,-1.85,-1.88,-1.88,-1.88,-1.88,-1.88,-1.85,-1.88,-1.88,-1.88,-1.88,-1.88,-1.85,-1.88,-1.88,-1.88,-1.88,-2.27,-2.5]]
R36 = [[-4.97,-4.6,-4.3,-4.46,-4.46,-4.46,-4.46,-4.46,-4.46,-4.46,-4.46,-4.46,-4.46,-4.46,-4.46,-4.46,-4.46,-4.46,-4.46,-4.46,-4.46],
       [-3.9,-3.3,-3.6,-3.6,-3.6,-3.6,-3.6,-3.6,-3.6,-3.6,-3.6,-3.6,-3.6,-3.6,-3.6,-3.6,-3.6,-3.6,-3.6,-3.6,-3.6],
       [-5.5,-5.75,-6.26,-6.65,-6.9,-7.0,-7.0,-7.0,-6.95,-7.0,-7.0,-7.0,-7.0,-6.95,-7.0,-7.0,-7.0,-7.0,-6.95,-7.0,-7.0],
       [-5.45,-5.8,-6.2,-6.6,-6.85,-7.0,-6.95,-7.0,-7.0,-7.0,-6.95,-7.0,-7.0,-7.0,-7.0,-6.95,-7.0,-7.0,-7.0,-6.95,-7.0],
       [-2.58,-1.7,-1.88,-1.88,-1.88,-1.88,-1.88,-1.88,-1.88,-1.88,-1.88,-1.88,-1.88,-1.88,-1.88,-1.88,-1.88,-1.88,-1.88,-1.88,-1.88]]

T41 = [[-2.0,-2.2,-1.9,-2.4,-2.1,-2.5,-2.0,-2.3,-1.9,-1.8,-2.0,-1.6,-1.5,-1.7,-1.4,-1.6,-1.5,-1.3,-1.5,-1.4,-1.3],
       [-2.3,-2.1,-2.5,-2.2,-2.6,-2.3,-2.7,-2.2,-2.6,-2.0,-1.9,-1.7,-1.6,-1.8,-1.5,-1.6,-1.4,-1.5,-1.6,-1.4,-1.5],
       [-2.1,-2.3,-2.0,-2.5,-2.2,-2.1,-2.4,-2.6,-2.1,-1.9,-1.8,-1.7,-1.5,-1.6,-1.4,-1.5,-1.6,-1.4,-1.3,-1.5,-1.1],
       [-2.0,-1.9,-2.2,-2.0,-2.3,-2.0,-2.2,-2.4,-2.0,-1.8,-1.7,-1.8,-1.6,-1.5,-1.6,-1.2,-1.5,-1.6,-1.4,-1.5,-1.4],
       [-1.7,-1.6,-1.8,-1.7,-1.9,-1.6,-1.8,-1.7,-1.6,-1.7,-1.5,-1.6,-1.4,-1.5,-1.4,-1.5,-1.3,-1.5,-1.4,-1.3,-1.4]]
R41 = [[-1.0,-1.5,-1.3,-1.6,-1.4,-1.7,-1.5,-1.8,-1.6,-1.4,-1.7,-1.5,-1.8,-1.6,-1.9,-1.7,-1.6,-1.8,-2.0,-1.7,-1.8],
       [-1.6,-1.4,-1.7,-0.6,-1.5,-1.6,-1.8,-1.5,-1.7,-1.6,-1.5,-1.7,-1.6,-1.8,-1.7,-1.5,-1.8,-1.6,-1.7,-1.9,-1.7],
       [-1.5,-1.3,-1.6,-1.4,-1.3,-1.5,-1.4,-1.6,-1.5,-1.7,-1.6,-1.8,-1.7,-1.9,-1.8,-2.1,-2.3,-2.4,-2.2,-2.0,-1.9],
       [-1.4,-1.6,-1.5,-1.7,-1.6,-1.5,-1.8,-1.6,-1.7,-1.9,-1.8,-1.7,-2.0,-1.9,-2.2,-2.0,-1.8,-2.1,-1.9,-2.0,-1.8],
       [-1.3,-1.1,-1.2,-1.4,-1.3,-1.5,-1.4,-1.6,-1.3,-1.5,-1.4,-1.6,-1.5,-1.7,-1.6,-1.5,-1.7,-1.6,-1.8,-1.7,-1.6]]
T42 = [[-2.9,-3.0,-2.8,-3.1,-2.9,-2.8,-3.0,-2.9,-2.7,-2.8,-2.7,-2.6,-2.5,-2.6,-2.5,-1.8,-2.5,-2.4,-2.5,-2.4,-2.5],
       [-2.8,-3.1,-2.9,-3.0,-3.1,-2.9,-3.1,-2.8,-2.9,-2.7,-2.6,-2.5,-2.6,-2.4,-2.5,-2.4,-2.5,-2.4,-2.5,-2.5,-2.4],
       [-3.0,-2.8,-2.9,-3.0,-2.8,-3.0,-2.9,-2.8,-2.7,-2.8,-2.6,-2.7,-2.5,-2.5,-2.4,-2.5,-2.4,-2.5,-2.4,-2.5,-2.5],
       [-2.9,-2.9,-3.1,-2.9,-3.0,-2.9,-2.8,-3.0,-2.8,-2.7,-2.7,-2.6,-2.5,-2.6,-2.5,-2.5,-2.4,-2.5,-2.5,-2.4,-2.5],
       [-2.2,-2.3,-2.2,-2.3,-2.2,-2.2,-2.3,-2.2,-2.2,-2.3,-2.2,-2.3,-2.2,-2.2,-2.3,-2.2,-2.2,-2.3,-2.2,-2.2,-2.3]]
R42 = [[-2.6,-2.8,-2.7,-2.9,-2.8,-2.7,-2.9,-3.0,-2.9,-3.1,-3.0,-3.2,-3.1,-3.3,-3.2,-3.1,-3.4,-3.3,-3.2,-3.3,-3.2],
       [-2.8,-2.7,-2.9,-2.8,-3.0,-2.9,-2.8,-3.0,-2.9,-3.0,-3.1,-3.0,-3.2,-3.1,-3.0,-3.2,-3.1,-3.2,-3.1,-3.2,-3.1],
       [-2.7,-2.9,-2.8,-2.7,-2.9,-2.8,-3.0,-2.9,-3.1,-3.2,-3.1,-3.3,-3.2,-3.3,-3.2,-3.1,-3.3,-3.2,-3.3,-3.1,-3.2],
       [-2.6,-2.7,-2.8,-2.9,-2.7,-2.9,-2.8,-3.0,-2.9,-3.1,-3.0,-3.2,-3.1,-3.2,-3.1,-3.2,-3.2,-3.1,-3.2,-3.2,-3.1],
       [-2.3,-2.2,-2.3,-2.2,-2.3,-2.2,-2.2,-2.3,-1.6,-2.2,-2.3,-2.2,-2.2,-2.3,-2.2,-2.2,-2.3,-2.2,-2.2,-2.3,-2.2]]
T43 = [[-3.7,-3.7,-3.65,-3.7,-3.7,-3.75,-3.7,-3.7,-3.65,-3.7,-3.7,-3.4,-2.65,-2.78,-2.78,-2.75,-2.78,-2.78,-2.8,-2.78,-2.78],
       [-3.7,-3.75,-3.7,-3.7,-3.65,-3.7,-3.7,-3.75,-3.7,-3.7,-3.65,-3.35,-2.6,-2.75,-2.78,-2.78,-2.75,-2.78,-2.78,-2.75,-2.78],
       [-3.65,-3.7,-3.7,-3.75,-3.7,-3.7,-3.65,-3.7,-3.7,-3.75,-3.7,-3.45,-2.7,-2.78,-2.75,-2.78,-2.78,-2.8,-2.78,-2.78,-2.75],
       [-3.7,-3.7,-3.75,-3.7,-3.7,-3.65,-3.7,-3.7,-3.75,-3.7,-3.65,-3.4,-2.65,-2.8,-2.78,-2.78,-2.8,-2.75,-2.78,-2.8,-2.78],
       [-2.27,-2.27,-2.25,-2.27,-2.27,-2.27,-2.25,-2.27,-2.27,-2.27,-2.25,-2.27,-2.27,-2.5,-2.95,-2.95,-3.0,-2.95,-2.95,-3.0,-2.95]]
R43 = [[-3.75,-3.75,-3.7,-3.75,-3.75,-3.75,-3.7,-3.75,-3.75,-3.75,-3.85,-3.85,-3.9,-3.85,-3.85,-3.85,-3.9,-3.85,-3.85,-3.85,-3.9],
       [-3.8,-3.8,-3.8,-3.85,-3.8,-3.8,-3.8,-3.8,-3.85,-3.8,-3.8,-3.8,-3.8,-3.85,-3.8,-3.8,-3.8,-3.8,-3.85,-3.8,-3.8],
       [-2.8,-2.85,-2.8,-2.75,-2.8,-2.85,-2.8,-2.8,-2.85,-2.9,-3.55,-3.8,-3.9,-3.95,-3.9,-3.9,-3.95,-3.9,-3.9,-3.95,-3.9],
       [-2.75,-2.8,-2.85,-2.8,-2.75,-2.8,-2.8,-2.85,-2.8,-2.9,-3.5,-3.8,-3.9,-3.9,-3.95,-3.9,-3.9,-3.9,-3.95,-3.9,-3.9],
       [-2.95,-2.95,-3.0,-2.95,-2.95,-2.95,-2.27,-2.22,-2.22,-2.22,-2.2,-2.22,-2.22,-2.22,-2.22,-2.2,-2.22,-2.22,-2.22,-2.22,-2.22]]
T44 = [[-4.97,-4.97,-4.95,-4.97,-4.97,-5.0,-4.97,-4.97,-4.95,-4.97,-4.97,-4.97,-5.0,-4.4,-3.0,-3.3,-3.45,-3.45,-3.45,-3.45,-3.45],
       [-4.97,-5.0,-4.97,-4.97,-4.95,-4.97,-4.97,-5.0,-4.97,-4.97,-4.95,-4.97,-4.97,-4.35,-2.95,-3.3,-3.45,-3.5,-3.45,-3.45,-3.45],
       [-4.95,-4.97,-4.97,-5.0,-4.97,-4.97,-4.95,-4.97,-4.97,-5.0,-4.97,-4.97,-4.95,-4.4,-3.05,-3.3,-3.45,-3.45,-3.5,-3.45,-3.45],
       [-4.97,-4.97,-5.0,-4.97,-4.97,-4.95,-4.97,-4.97,-5.0,-4.97,-4.97,-4.95,-4.97,-4.45,-3.0,-3.35,-3.45,-3.45,-3.45,-3.5,-3.45],
       [-2.27,-2.27,-2.25,-2.27,-2.27,-2.27,-2.27,-2.25,-2.27,-2.27,-2.27,-2.27,-2.25,-2.27,-2.15,-3.04,-3.43,-3.7,-3.8,-3.8,-3.8]]
R44 = [[-3.43,-3.43,-3.4,-3.43,-3.04,-3.17,-3.8,-4.5,-4.9,-5.0,-5.1,-4.95,-5.05,-4.9,-5.0,-5.1,-4.95,-5.0,-4.9,-5.05,-5.0],
       [-3.43,-3.43,-3.45,-3.43,-3.43,-3.45,-3.9,-4.46,-4.46,-4.46,-4.46,-4.46,-4.46,-4.46,-4.46,-4.46,-4.46,-4.46,-4.46,-4.46,-4.46],
       [-3.43,-3.45,-3.43,-3.43,-3.45,-3.43,-3.8,-4.46,-4.85,-5.0,-5.2,-5.05,-5.15,-5.0,-5.2,-5.1,-4.95,-5.15,-5.05,-5.2,-5.1],
       [-3.45,-3.43,-3.43,-3.45,-3.43,-3.45,-3.85,-4.4,-4.8,-5.05,-5.1,-5.0,-5.2,-5.1,-5.05,-5.2,-5.0,-5.1,-5.15,-5.0,-5.1],
       [-3.8,-3.43,-2.78,-2.27,-2.0,-2.2,-2.22,-2.22,-2.22,-2.2,-2.22,-2.22,-2.22,-2.22,-2.2,-2.22,-2.22,-2.22,-2.22,-2.2,-2.22]]
T45 = [[-5.3,-5.3,-5.3,-5.28,-5.3,-5.3,-5.3,-5.3,-5.28,-5.3,-5.3,-5.3,-5.3,-5.28,-5.3,-4.7,-4.07,-4.33,-4.33,-4.33,-4.33],
       [-6.34,-6.34,-6.3,-6.34,-6.34,-6.34,-6.3,-6.34,-6.34,-6.34,-6.3,-6.34,-6.34,-6.0,-5.6,-5.23,-4.6,-4.1,-4.33,-4.33,-4.33],
       [-5.3,-5.28,-5.3,-5.3,-5.3,-5.28,-5.3,-5.3,-5.3,-5.28,-5.3,-5.3,-5.3,-5.3,-5.28,-4.75,-4.1,-4.33,-4.35,-4.33,-4.33],
       [-6.34,-6.3,-6.34,-6.34,-6.3,-6.34,-6.34,-6.34,-6.3,-6.34,-6.34,-6.3,-6.3,-6.0,-5.6,-5.2,-4.6,-4.15,-4.33,-4.35,-4.33],
       [-2.27,-2.27,-2.25,-2.27,-2.27,-2.27,-2.25,-2.27,-2.27,-2.27,-2.25,-2.27,-2.27,-2.27,-2.25,-2.27,-2.27,-3.15,-3.9,-4.2,-4.3]]
R45 = [[-5.3,-5.3,-5.32,-5.3,-5.3,-5.32,-5.3,-5.3,-5.32,-5.3,-5.5,-5.5,-5.5,-5.48,-5.5,-5.5,-5.5,-5.48,-5.5,-5.5,-5.5],
       [-4.33,-4.54,-4.54,-4.54,-4.54,-4.54,-4.54,-4.54,-4.54,-4.54,-4.54,-4.54,-4.54,-4.54,-4.54,-4.54,-4.54,-4.54,-4.54,-4.54,-4.54],
       [-4.33,-4.33,-4.33,-4.46,-4.85,-5.23,-5.88,-6.0,-6.26,-6.3,-6.2,-6.35,-6.4,-6.3,-6.45,-6.4,-6.35,-6.5,-6.4,-6.45,-6.4],
       [-4.33,-4.3,-4.35,-4.46,-4.9,-5.25,-5.85,-6.0,-6.2,-6.25,-6.3,-6.2,-6.3,-6.25,-6.3,-6.2,-6.35,-6.25,-6.3,-6.2,-6.25],
       [-3.7,-3.04,-2.27,-2.14,-2.22,-2.22,-2.22,-2.22,-2.22,-2.22,-2.22,-2.22,-2.22,-2.22,-2.22,-2.22,-2.22,-2.22,-2.22,-2.22,-2.22]]
T46 = [[-5.36,-5.36,-5.35,-5.36,-5.36,-5.36,-5.35,-5.36,-5.36,-5.36,-5.35,-5.36,-5.36,-5.36,-5.35,-5.36,-5.36,-5.36,-5.35,-4.97,-5.36],
       [-7.04,-7.04,-7.0,-7.04,-7.04,-7.04,-7.0,-7.04,-7.04,-7.04,-7.0,-7.04,-7.04,-7.04,-7.0,-6.8,-6.4,-5.8,-5.3,-5.1,-5.3],
       [-5.36,-5.35,-5.36,-5.36,-5.36,-5.35,-5.36,-5.36,-5.36,-5.35,-5.36,-5.36,-5.36,-5.35,-5.36,-5.36,-5.36,-5.35,-5.3,-5.0,-5.35],
       [-7.04,-7.0,-7.04,-7.04,-7.04,-7.0,-7.04,-7.04,-7.04,-7.0,-7.04,-7.04,-7.04,-7.0,-7.04,-6.75,-6.35,-5.75,-5.3,-5.15,-5.25],
       [-2.27,-2.27,-2.25,-2.27,-2.27,-2.27,-2.27,-2.25,-2.27,-2.27,-2.27,-2.27,-2.25,-2.27,-2.27,-2.27,-2.27,-2.25,-2.27,-2.27,-3.04]]
R46 = [[-4.97,-5.1,-5.49,-5.49,-5.49,-5.49,-5.49,-5.49,-5.49,-5.49,-5.49,-5.49,-5.49,-5.49,-5.49,-5.49,-5.49,-5.49,-5.49,-5.49,-5.49],
       [-4.28,-4.38,-4.54,-4.54,-4.54,-4.54,-4.54,-4.54,-4.54,-4.54,-4.54,-4.54,-4.54,-4.54,-4.54,-4.54,-4.54,-4.54,-4.54,-4.54,-4.54],
       [-5.36,-5.88,-6.52,-6.9,-7.0,-7.0,-7.0,-6.95,-7.0,-7.0,-7.0,-7.0,-6.95,-7.0,-7.0,-7.0,-7.0,-6.95,-7.0,-7.0,-7.0],
       [-5.4,-5.9,-6.5,-6.85,-7.0,-6.95,-7.0,-7.0,-7.0,-6.95,-7.0,-7.0,-7.0,-7.0,-6.95,-7.0,-7.0,-7.0,-6.95,-7.0,-7.0],
       [-2.9,-2.14,-2.22,-2.22,-2.22,-2.22,-2.22,-2.22,-2.22,-2.22,-2.22,-2.22,-2.22,-2.22,-2.22,-2.22,-2.22,-2.22,-2.22,-2.22,-2.22]]

TRANS = [[T11, T12, T13, T14, T15, T16], [T21, T22, T23, T24, T25, T26],
         [T31, T32, T33, T34, T35, T36], [T41, T42, T43, T44, T45, T46]]
ROT = [[R11, R12, R13, R14, R15, R16], [R21, R22, R23, R24, R25, R26],
       [R31, R32, R33, R34, R35, R36], [R41, R42, R43, R44, R45, R46]]

for grid in (TRANS, ROT):
    for rr in grid:
        for panel in rr:
            for s in panel:
                assert len(s) == len(ALPHA_EXP), len(s)

W, H = 628.0, 590.0
fig = plt.figure(figsize=(W / 100, H / 100), dpi=100)
COL_LEFT = [87.3, 174.7, 262.0, 349.3, 436.7, 524.0]
ROW_TOP = [34.0, 175.0, 316.0, 457.0]
PW, PH = 72.5, 103.5
SPINE = '#505050'

xv = 10.0 ** np.array(ALPHA_EXP)
for r in range(4):
    for c in range(6):
        ax = fig.add_axes([COL_LEFT[c] / W, 1 - (ROW_TOP[r] + PH) / H, PW / W, PH / H])
        ax.set_xscale('log')
        ax.set_yscale('log')
        for k in range(5):
            ax.plot(xv, 10.0 ** np.array(TRANS[r][c][k]), ls='none', marker='^', ms=3.3,
                    mfc=COLORS[k], mec='black', mew=0.45, zorder=3)
            ax.plot(xv, 10.0 ** np.array(ROT[r][c][k]), ls='none', marker='o', ms=3.6,
                    mfc='none', mec=COLORS[k], mew=0.6, alpha=0.75, zorder=3)
        ax.set_xlim(10 ** -5.15, 10 ** 5.7)
        ax.set_ylim(1e-8, 1.0)
        ax.set_xticks([1e-5, 1e0, 1e5])
        ax.set_xticklabels([r'$10^{-5}$', r'$10^{0}$', r'$10^{5}$'])
        ax.set_yticks([1e0, 1e-2, 1e-4, 1e-6, 1e-8])
        ax.xaxis.set_minor_locator(NullLocator())
        ax.yaxis.set_minor_locator(NullLocator())
        if c == 0:
            ax.set_yticklabels([r'$10^{0}$', r'$10^{-2}$', r'$10^{-4}$', r'$10^{-6}$', r'$10^{-8}$'])
            ax.set_ylabel('Relative velocity error', fontsize=8)
            ax.yaxis.set_label_coords((49 - COL_LEFT[0]) / PW, 0.5)
        else:
            ax.set_yticklabels([])
        ax.tick_params(axis='both', which='major', direction='in', length=2, width=0.5,
                       top=True, right=True, labelsize=8, pad=2, color=SPINE)
        ax.tick_params(axis='x', labelsize=7.5, pad=4)
        ax.tick_params(axis='y', labelsize=7.8)
        ax.grid(True, which='major', ls=':', lw=0.5, color='#b0b0b0')
        for sp in ax.spines.values():
            sp.set_color(SPINE)
            sp.set_linewidth(0.8)
        ax.set_xlabel(r'$\alpha$', fontsize=8, labelpad=0.5)

        if r == 0:
            xeq = (COL_LEFT[c] + 21) / W
            fig.text(xeq - 2 / W, 1 - 7 / H, r'$\delta$', ha='right', va='center', fontsize=8)
            fig.text(xeq, 1 - 7 / H, r'$=' + DELTA_R[c] + '$', ha='left', va='center', fontsize=8)
            fig.text(xeq, 1 - 20 / H, r'$=' + DELTA_L[c] + '$', ha='left', va='center', fontsize=8)

    yc = ROW_TOP[r] + PH / 2
    fig.text(12 / W, 1 - (yc + 6) / H, ROW_LINE1[r], rotation=90, ha='center', va='center', fontsize=8)
    fig.text(27 / W, 1 - (yc - 5) / H, ROW_LINE2[r], rotation=90, ha='center', va='center', fontsize=8)

h1 = [Line2D([], [], ls='none', marker='^', color='black', ms=4),
      Line2D([], [], ls='none', marker='o', mfc='none', mec='black', ms=4, mew=0.7)]
leg1 = fig.legend(h1, ['Translational velocity', 'Rotational velocity'], loc='upper left',
                  bbox_to_anchor=(89 / W, 1 - 83 / H), fontsize=8, frameon=True, fancybox=False,
                  edgecolor=SPINE, framealpha=1, handlelength=0.7, handletextpad=0.4,
                  borderpad=0.3, labelspacing=0.15, borderaxespad=0)
leg1.get_frame().set_linewidth(0.8)
h2 = [Line2D([], [], ls='none', marker='s', mfc=col, mec=col, ms=4) for col in COLORS]
leg2 = fig.legend(h2, SERIES, loc='upper left', bbox_to_anchor=(89 / W, 1 - 114 / H), ncol=5,
                  fontsize=8, frameon=True, fancybox=False, edgecolor=SPINE, framealpha=1,
                  handlelength=0.7, handletextpad=0.3, columnspacing=0.6, borderpad=0.3,
                  borderaxespad=0)
leg2.get_frame().set_linewidth(0.8)

fig.savefig('out.png', dpi=100)
